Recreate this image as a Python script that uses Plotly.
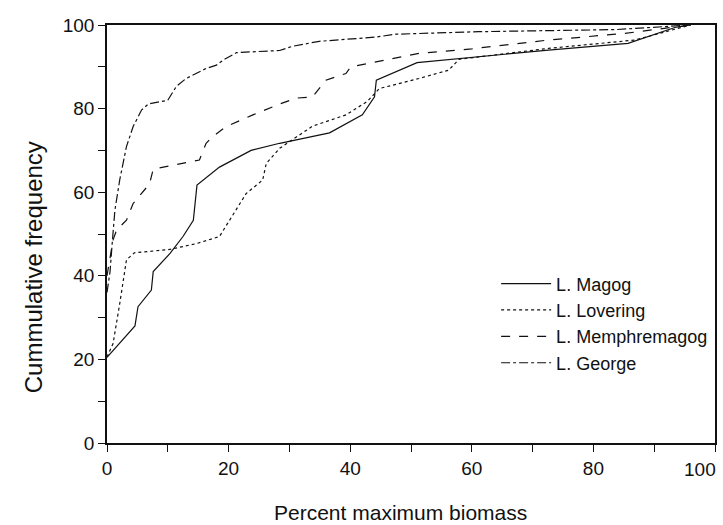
import plotly.graph_objects as go

# Data
magog_x = [0, 4.6, 5.1, 7.3, 7.6, 10.4, 12.5, 14.2, 14.8, 18.5, 23.7, 28.4, 36.6, 42, 44, 44.3, 51, 58, 72.6, 85.7, 93.4, 96]
magog_y = [20.5, 28, 32.6, 36.6, 41, 45.4, 49.4, 53.3, 61.7, 66, 70, 71.7, 74.2, 78.5, 82.8, 86.8, 91, 92, 94, 95.6, 99.4, 100]

lovering_x = [0, 1.0, 2.1, 3.2, 3.8, 4.5, 10.3, 14.7, 18.5, 21.8, 22.9, 25.6, 26.2, 28.4, 33.8, 39.3, 42.8, 44.8, 51.3, 56.2, 57.9, 72.6, 86.8, 96]
lovering_y = [20.6, 23.8, 33.4, 43.8, 44.6, 45.5, 46.3, 47.7, 49.4, 57, 59.7, 62.9, 66.9, 70.5, 75.8, 78.5, 81.7, 84.8, 87.2, 89.2, 91.8, 94.4, 96.4, 100]

memph_x = [0, 1.0, 1.6, 3.2, 4.3, 7.0, 7.6, 15.2, 16.3, 17.4, 19.6, 24, 28.4, 31.1, 33.8, 36, 39.3, 40.1, 51.3, 60, 72.6, 85.2, 96]
memph_y = [40, 48.6, 51, 53.3, 57.3, 62, 65.5, 67.7, 71.7, 73.3, 75.7, 78.5, 81.1, 82.5, 82.8, 86.8, 88.4, 90, 93.2, 94.3, 96.4, 98, 100]

george_x = [0, 0.5, 0.9, 1.3, 2.1, 2.7, 3.2, 4.3, 5.7, 6.8, 10, 11.4, 13, 16.3, 18, 19.1, 21.3, 28.4, 30.5, 34.9, 44.2, 47.5, 61.1, 83.6, 96]
george_y = [36, 41, 48.6, 55.7, 63, 67.7, 70.9, 75.7, 79.7, 81.1, 82, 85.3, 87.2, 89.6, 90.4, 91.6, 93.4, 93.9, 94.9, 96.1, 97.1, 97.8, 98.4, 98.9, 100]

names = ["L. Magog", "L. Lovering", "L. Memphremagog", "L. George"]
dashes = ["solid", "dot", "dash", "dashdot"]
series = [(magog_x, magog_y), (lovering_x, lovering_y), (memph_x, memph_y), (george_x, george_y)]

x_ticks = [0, 20, 40, 60, 80, 100]
x_ticktext = ["0", "20", "40", "60", "80", ""]
y_ticks = [0, 20, 40, 60, 80, 100]

FONT = "Liberation Sans, Arial, sans-serif"
INK = "#111111"

W, H = 723, 525
pl, pr, pt, pb = 107, 6, 25, 82
pw, ph = W - pl - pr, H - pt - pb

fig = go.Figure()
for (xs, ys), nm, ds in zip(series, names, dashes):
    fig.add_trace(go.Scatter(x=xs, y=ys, mode="lines", name=nm,
                             line=dict(color=INK, width=1.2, dash=ds)))

axis_common = dict(
    showline=True, linecolor=INK, linewidth=1.6, mirror=True,
    showgrid=False, zeroline=False,
    ticks="outside", ticklen=7, tickwidth=1.2, tickcolor=INK,
    tickfont=dict(family=FONT, size=19, color=INK),
    range=[0, 100],
    minor=dict(dtick=10, tick0=0, ticks="outside", ticklen=7, tickwidth=1.2, tickcolor=INK),
)

fig.update_xaxes(**axis_common, tickmode="array", tickvals=x_ticks, ticktext=x_ticktext)
fig.update_yaxes(**axis_common, tickmode="array", tickvals=y_ticks,
                 ticktext=[str(v) for v in y_ticks])

# last x tick label (kept inside the window like the reference)
fig.add_annotation(x=100, y=0, xref="x", yref="paper", text=str(x_ticks[-1]),
                   showarrow=False, xanchor="right", yanchor="top", xshift=3, yshift=-14,
                   font=dict(family=FONT, size=19, color=INK))
# axis titles
fig.add_annotation(x=(401 - pl) / pw, y=(H - pb - 512) / ph, xref="paper", yref="paper",
                   text="Percent maximum biomass",
                   showarrow=False, xanchor="center", yanchor="middle",
                   font=dict(family=FONT, size=21, color=INK))
fig.add_annotation(x=(33 - pl) / pw, y=(H - pb - 267) / ph, xref="paper", yref="paper",
                   text="Cummulative frequency",
                   showarrow=False, xanchor="center", yanchor="middle", textangle=-90,
                   font=dict(family=FONT, size=24, color=INK))

fig.update_layout(
    width=W, height=H,
    margin=dict(l=pl, r=pr, t=pt, b=pb),
    paper_bgcolor="white", plot_bgcolor="white",
    font=dict(family=FONT, color=INK),
    showlegend=True,
    legend=dict(x=0.64, y=0.425, xanchor="left", yanchor="top", itemwidth=50,
                bgcolor="rgba(0,0,0,0)", font=dict(family=FONT, size=18, color=INK),
                tracegroupgap=0),
)

fig.write_html("out.html")
